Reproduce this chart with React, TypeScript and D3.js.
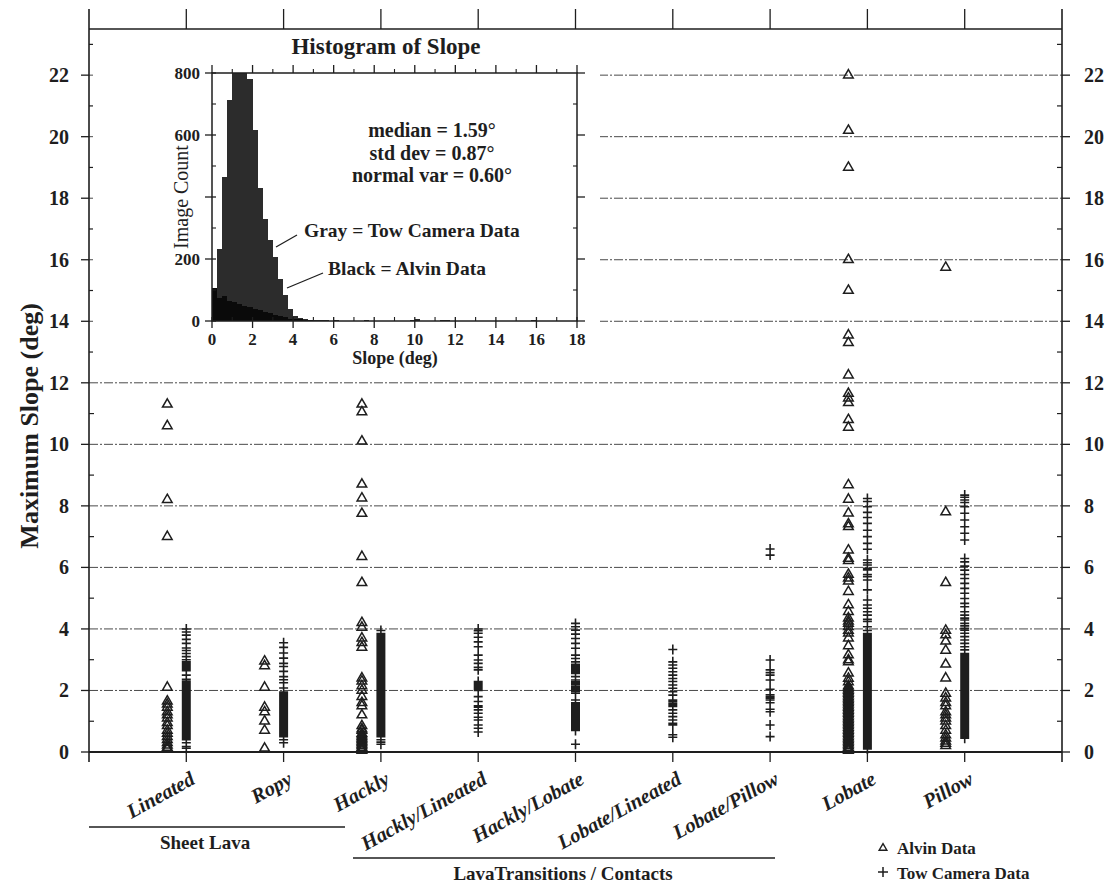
import React from 'react';
import * as d3 from 'd3';

// ---------- DATA ----------
const categories = ['Lineated', 'Ropy', 'Hackly', 'Hackly/Lineated', 'Hackly/Lobate', 'Lobate/Lineated', 'Lobate/Pillow', 'Lobate', 'Pillow'];

const lineatedAlvin = [11.3, 10.6, 8.2, 7.0, 2.1, 1.65, 1.55, 1.45, 1.3, 1.2, 1.1, 0.95, 0.85, 0.7, 0.6, 0.5, 0.4, 0.3, 0.22, 0.15, 0.1];
const lineatedTow = [4.0, 3.9, 3.8, 3.66, 3.53, 3.38, 3.3, 3.2, 3.1, 3.0, 2.93, 2.88, 2.84, 2.8, 2.76, 2.72, 2.68, 2.64, 2.5, 2.36, 2.3, 2.26, 2.22, 2.18, 2.14, 2.1, 2.05, 2.0, 1.95, 1.9, 1.85, 1.8, 1.75, 1.7, 1.65, 1.6, 1.55, 1.5, 1.45, 1.4, 1.35, 1.3, 1.25, 1.2, 1.15, 1.1, 1.05, 1.0, 0.95, 0.9, 0.85, 0.8, 0.75, 0.7, 0.65, 0.6, 0.55, 0.5, 0.45, 0.4, 0.3, 0.18, 0.12];

const ropyAlvin = [2.95, 2.8, 2.1, 1.45, 1.3, 1.0, 0.7, 0.12];
const ropyTow = [3.55, 3.4, 3.22, 3.05, 2.88, 2.78, 2.62, 2.45, 2.35, 2.25, 2.08, 1.95, 1.9, 1.85, 1.8, 1.75, 1.7, 1.65, 1.6, 1.55, 1.5, 1.45, 1.4, 1.35, 1.3, 1.25, 1.2, 1.15, 1.1, 1.05, 1.0, 0.95, 0.9, 0.85, 0.8, 0.75, 0.7, 0.65, 0.6, 0.55, 0.5, 0.4, 0.3];

const hacklyAlvin = [11.3, 11.05, 10.1, 8.7, 8.25, 7.75, 6.35, 5.5, 4.2, 4.05, 3.7, 3.55, 3.4, 2.4, 2.3, 2.15, 2.0, 1.8, 1.6, 1.5, 1.2, 0.85, 0.75, 0.7, 0.6, 0.55, 0.5, 0.45, 0.4, 0.35, 0.3, 0.25, 0.2, 0.15, 0.1, 0.05];
const hacklyTow = [3.95, 3.85, 3.8, 3.75, 3.7, 3.65, 3.6, 3.55, 3.5, 3.45, 3.4, 3.35, 3.3, 3.25, 3.2, 3.15, 3.1, 3.05, 3.0, 2.95, 2.9, 2.85, 2.8, 2.75, 2.7, 2.65, 2.6, 2.55, 2.5, 2.45, 2.4, 2.35, 2.3, 2.25, 2.2, 2.15, 2.1, 2.05, 2.0, 1.95, 1.9, 1.85, 1.8, 1.75, 1.7, 1.65, 1.6, 1.55, 1.5, 1.45, 1.4, 1.35, 1.3, 1.25, 1.2, 1.15, 1.1, 1.05, 1.0, 0.95, 0.9, 0.85, 0.8, 0.75, 0.7, 0.65, 0.6, 0.55, 0.5, 0.4, 0.32, 0.25];

const hacklyLineatedTow = [4.0, 3.94, 3.86, 3.73, 3.58, 3.42, 3.15, 2.99, 2.88, 2.75, 2.67, 2.29, 2.24, 2.2, 2.15, 2.1, 2.05, 2.0, 1.8, 1.64, 1.5, 1.46, 1.37, 1.26, 1.13, 1.04, 0.88, 0.77, 0.65];

const hacklyLobateTow = [4.18, 4.07, 3.96, 3.83, 3.69, 3.53, 3.37, 3.15, 3.04, 2.93, 2.85, 2.8, 2.75, 2.7, 2.65, 2.6, 2.55, 2.45, 2.34, 2.28, 2.23, 2.18, 2.12, 2.07, 2.02, 1.97, 1.91, 1.69, 1.6, 1.55, 1.5, 1.45, 1.4, 1.35, 1.3, 1.25, 1.2, 1.15, 1.1, 1.05, 1.0, 0.95, 0.9, 0.85, 0.8, 0.75, 0.7, 0.25];

const lobateLineatedTow = [3.33, 2.93, 2.83, 2.72, 2.61, 2.5, 2.39, 2.29, 2.18, 2.07, 1.96, 1.85, 1.69, 1.64, 1.58, 1.53, 1.48, 1.37, 1.26, 1.15, 1.04, 0.93, 0.88, 0.56, 0.48];

const lobatePillowTow = [6.6, 6.4, 2.99, 2.67, 2.58, 2.5, 2.34, 2.04, 1.86, 1.8, 1.75, 1.69, 1.6, 1.39, 1.31, 0.88, 0.5];

const lobateAlvin = [22.0, 20.2, 19.0, 16.0, 15.0, 13.55, 13.3, 12.25, 11.65, 11.5, 11.35, 10.8, 10.55, 8.68, 8.21, 7.76, 7.41, 7.32, 6.56, 6.29, 6.22, 5.77, 5.65, 5.55, 5.21, 4.78, 4.56, 4.35, 4.25, 4.18, 4.07, 3.95, 3.86, 3.7, 3.45, 3.15, 2.99, 2.93, 2.56, 2.39, 2.28, 2.15, 2.1, 2.05, 2.0, 1.95, 1.9, 1.85, 1.8, 1.75, 1.7, 1.65, 1.6, 1.55, 1.5, 1.45, 1.4, 1.35, 1.3, 1.25, 1.2, 1.15, 1.1, 1.05, 1.0, 0.95, 0.9, 0.85, 0.8, 0.75, 0.7, 0.65, 0.6, 0.55, 0.5, 0.45, 0.4, 0.35, 0.3, 0.25, 0.2, 0.15, 0.1, 0.05];
const lobateTow = [8.24, 8.14, 7.97, 7.79, 7.62, 7.43, 7.21, 7.0, 6.78, 6.59, 6.24, 6.15, 6.08, 5.97, 5.92, 5.77, 5.7, 5.59, 5.27, 4.94, 4.78, 4.67, 4.56, 4.45, 4.31, 4.24, 4.07, 3.95, 3.85, 3.8, 3.75, 3.7, 3.65, 3.6, 3.55, 3.5, 3.45, 3.4, 3.35, 3.3, 3.25, 3.2, 3.15, 3.1, 3.05, 3.0, 2.95, 2.9, 2.85, 2.8, 2.75, 2.7, 2.65, 2.6, 2.55, 2.5, 2.45, 2.4, 2.35, 2.3, 2.25, 2.2, 2.15, 2.1, 2.05, 2.0, 1.95, 1.9, 1.85, 1.8, 1.75, 1.7, 1.65, 1.6, 1.55, 1.5, 1.45, 1.4, 1.35, 1.3, 1.25, 1.2, 1.15, 1.1, 1.05, 1.0, 0.95, 0.9, 0.85, 0.8, 0.75, 0.7, 0.65, 0.6, 0.55, 0.5, 0.45, 0.4, 0.35, 0.3, 0.25, 0.2, 0.15, 0.1];

const pillowAlvin = [15.75, 7.8, 5.5, 3.95, 3.8, 3.6, 3.3, 2.85, 2.4, 1.9, 1.75, 1.6, 1.5, 1.3, 1.2, 1.1, 1.0, 0.85, 0.7, 0.55, 0.45, 0.35, 0.28, 0.2];
const pillowTow = [8.35, 8.28, 8.19, 8.11, 7.97, 7.76, 7.54, 7.32, 7.11, 6.89, 6.29, 6.18, 6.04, 5.91, 5.77, 5.64, 5.48, 5.32, 5.16, 4.99, 4.83, 4.72, 4.56, 4.45, 4.35, 4.29, 4.18, 4.1, 4.02, 3.96, 3.86, 3.75, 3.64, 3.53, 3.42, 3.32, 3.2, 3.15, 3.1, 3.05, 3.0, 2.95, 2.9, 2.85, 2.8, 2.75, 2.7, 2.65, 2.6, 2.55, 2.5, 2.45, 2.4, 2.35, 2.3, 2.25, 2.2, 2.15, 2.1, 2.05, 2.0, 1.95, 1.9, 1.85, 1.8, 1.75, 1.7, 1.65, 1.6, 1.55, 1.5, 1.45, 1.4, 1.35, 1.3, 1.25, 1.2, 1.15, 1.1, 1.05, 1.0, 0.95, 0.9, 0.85, 0.8, 0.75, 0.7, 0.65, 0.6, 0.55, 0.5, 0.45];

const alvinSeries = [lineatedAlvin, ropyAlvin, hacklyAlvin, [], [], [], [], lobateAlvin, pillowAlvin];
const towSeries = [lineatedTow, ropyTow, hacklyTow, hacklyLineatedTow, hacklyLobateTow, lobateLineatedTow, lobatePillowTow, lobateTow, pillowTow];

const yMajorTicks = [0, 2, 4, 6, 8, 10, 12, 14, 16, 18, 20, 22];
const yMinorTicks = [1, 3, 5, 7, 9, 11, 13, 15, 17, 19, 21, 23];
const gridValues = [2, 4, 6, 8, 10, 12, 14, 16, 18, 20, 22];

// histogram inset (0.25 deg bins)
const histBinStarts = [0, 0.25, 0.5, 0.75, 1.0, 1.25, 1.5, 1.75, 2.0, 2.25, 2.5, 2.75, 3.0, 3.25, 3.5, 3.75, 4.0, 4.25, 4.5, 4.75, 5.0, 5.25, 5.5, 5.75, 6.0, 7.5, 9.75, 10.0, 11.25, 11.5, 15.75];
const towCounts = [55, 231, 463, 714, 930, 1010, 960, 780, 615, 430, 330, 262, 205, 135, 85, 40, 15, 10, 5, 4, 3, 2, 2, 1, 3, 2, 3, 5, 3, 4, 3];
const alvinCounts = [105, 75, 82, 66, 60, 55, 50, 45, 40, 35, 30, 25, 20, 15, 12, 8, 6, 5, 3, 2, 1, 1, 0, 0, 0, 0, 0, 0, 0, 0, 0];
const histXTicks = [0, 2, 4, 6, 8, 10, 12, 14, 16, 18];
const histXMinor = [1, 3, 5, 7, 9, 11, 13, 15, 17];
const histYTicks = [0, 200, 400, 600, 800];
const histYLabels = [0, 200, 600, 800];
const histYMinor = [100, 300, 500, 700];
const statsLines = ['median = 1.59°', 'std dev = 0.87°', 'normal var = 0.60°'];

// ---------- CHART ----------
const INK = '#1e1e1e';
const SERIF = '"Liberation Serif", "Times New Roman", serif';

export default function App() {
  const x = d3.scaleLinear().domain([0, categories.length + 1]).range([89, 1062]);
  const y = d3.scaleLinear().domain([0, 23.5]).range([752, 29]);
  const hx = d3.scaleLinear().domain([0, 18]).range([212, 577]);
  const hy = d3.scaleLinear().domain([0, 800]).range([321, 73]);
  const ALVIN_DX = -19;
  const tri = d3.symbol().type(d3.symbolTriangle).size(40)() as string;
  const triSmall = d3.symbol().type(d3.symbolTriangle).size(26)() as string;
  const xLeft = x(0), xRight = x(categories.length + 1);
  const yTop = y(23.5), yBot = y(0);
  const binW = 0.25;

  const crossPath = (vals: number[], cx: number) =>
    vals.map(v => `M${cx - 4.5},${y(v)}h9M${cx},${y(v) - 5}v10`).join('');

  return (
    <svg width={1107} height={885} style={{ position: 'absolute', left: 0, top: 0, background: '#fff' }}
      fontFamily={SERIF} fill={INK}>
      <rect x={0} y={0} width={1107} height={885} fill="#fff" />
      {/* grid */}
      {gridValues.map(g => (
        <line key={'g' + g} x1={xLeft} x2={xRight} y1={y(g)} y2={y(g)} stroke="#4a4a4a" strokeWidth={1}
          strokeDasharray="9 2 2 2" />
      ))}
      {/* frame */}
      <line x1={xLeft} x2={xRight} y1={yTop} y2={yTop} stroke={INK} strokeWidth={1.6} />
      <line x1={xLeft} x2={xRight} y1={yBot} y2={yBot} stroke={INK} strokeWidth={1.8} />
      <line x1={xLeft} x2={xLeft} y1={9} y2={yBot + 10} stroke={INK} strokeWidth={1.6} />
      <line x1={xRight} x2={xRight} y1={9} y2={yBot + 10} stroke={INK} strokeWidth={1.6} />
      {categories.map((c, i) => (
        <g key={'t' + c}>
          <line x1={x(i + 1)} x2={x(i + 1)} y1={yTop} y2={9} stroke={INK} strokeWidth={1.3} />
          <line x1={x(i + 1)} x2={x(i + 1)} y1={yBot} y2={yBot + 10} stroke={INK} strokeWidth={1.3} />
        </g>
      ))}
      {yMajorTicks.map(t => (
        <g key={'ym' + t}>
          <line x1={xLeft - 8} x2={xLeft} y1={y(t)} y2={y(t)} stroke={INK} strokeWidth={1.3} />
          <line x1={xRight} x2={xRight + 8} y1={y(t)} y2={y(t)} stroke={INK} strokeWidth={1.3} />
          <text x={xLeft - 20} y={y(t)} dy="0.35em" textAnchor="end" fontSize={20} fontWeight="bold">{t}</text>
          <text x={xRight + 22} y={y(t)} dy="0.35em" textAnchor="start" fontSize={20} fontWeight="bold">{t}</text>
        </g>
      ))}
      {yMinorTicks.map(t => (
        <g key={'yn' + t}>
          <line x1={xLeft} x2={xLeft + 5} y1={y(t)} y2={y(t)} stroke={INK} strokeWidth={1.2} />
          <line x1={xRight - 5} x2={xRight} y1={y(t)} y2={y(t)} stroke={INK} strokeWidth={1.2} />
        </g>
      ))}
      <text transform={`translate(38,${y(10.6)}) rotate(-90)`} textAnchor="middle" fontSize={26} fontWeight="bold">
        Maximum Slope (deg)
      </text>

      {/* data */}
      {towSeries.map((vals, i) => (
        <path key={'tow' + i} d={crossPath(vals, x(i + 1))} stroke={INK} strokeWidth={1.6} fill="none" />
      ))}
      {alvinSeries.map((vals, i) => (
        <g key={'alv' + i}>
          {vals.map((v, j) => (
            <path key={j} d={tri} transform={`translate(${x(i + 1) + ALVIN_DX},${y(v)})`} fill="none"
              stroke={INK} strokeWidth={1.5} />
          ))}
        </g>
      ))}

      {/* category labels */}
      {categories.map((c, i) => (
        <text key={'c' + c} transform={`translate(${x(i + 1) + 10},${yBot + 31}) rotate(-29)`} textAnchor="end"
          fontSize={20.5} fontWeight="bold" fontStyle="italic">{c}</text>
      ))}
      <line x1={89} x2={345} y1={827} y2={827} stroke={INK} strokeWidth={1.6} />
      <text x={205} y={849} textAnchor="middle" fontSize={19} fontWeight="bold">Sheet Lava</text>
      <line x1={353} x2={775} y1={858} y2={858} stroke={INK} strokeWidth={1.6} />
      <text x={563} y={880} textAnchor="middle" fontSize={19} fontWeight="bold">LavaTransitions / Contacts</text>

      {/* legend */}
      <path d={triSmall} transform="translate(883,848)" fill="none" stroke={INK} strokeWidth={1.4} />
      <text x={897} y={854} fontSize={17} fontWeight="bold">Alvin Data</text>
      <path d="M878,872h10M883,867v10" stroke={INK} strokeWidth={1.5} />
      <text x={897} y={879} fontSize={17} fontWeight="bold">Tow Camera Data</text>

      {/* inset */}
      <rect x={93} y={31} width={507} height={322} fill="#fff" />
      <text x={386} y={54} textAnchor="middle" fontSize={23} fontWeight="bold">Histogram of Slope</text>
      {histBinStarts.map((b, i) => (
        <rect key={'hg' + i} x={hx(b)} width={hx(b + binW) - hx(b)} y={hy(Math.min(towCounts[i], 800))}
          height={hy(0) - hy(Math.min(towCounts[i], 800))} fill="#2c2c2c" shapeRendering="crispEdges" />
      ))}
      {histBinStarts.map((b, i) => alvinCounts[i] > 0 ? (
        <rect key={'hb' + i} x={hx(b)} width={hx(b + binW) - hx(b)} y={hy(alvinCounts[i])}
          height={hy(0) - hy(alvinCounts[i])} fill="#0a0a0a" shapeRendering="crispEdges" />
      ) : null)}
      <rect x={hx(0)} y={hy(800)} width={hx(18) - hx(0)} height={hy(0) - hy(800)} fill="none" stroke={INK}
        strokeWidth={1.5} />
      {histXTicks.map(t => (
        <g key={'hx' + t}>
          <line x1={hx(t)} x2={hx(t)} y1={hy(0) - 4} y2={hy(0) + 7} stroke={INK} strokeWidth={1.3} />
          <line x1={hx(t)} x2={hx(t)} y1={hy(800)} y2={hy(800) - 8} stroke={INK} strokeWidth={1.3} />
          <text x={hx(t)} y={hy(0) + 24} textAnchor="middle" fontSize={17} fontWeight="bold">{t}</text>
        </g>
      ))}
      {histXMinor.map(t => (
        <g key={'hxm' + t}>
          <line x1={hx(t)} x2={hx(t)} y1={hy(0)} y2={hy(0) - 4} stroke={INK} strokeWidth={1.1} />
          <line x1={hx(t)} x2={hx(t)} y1={hy(800)} y2={hy(800) - 4} stroke={INK} strokeWidth={1.1} />
        </g>
      ))}
      {histYTicks.map(t => (
        <g key={'hy' + t}>
          <line x1={hx(0) - 7} x2={hx(0) + 4} y1={hy(t)} y2={hy(t)} stroke={INK} strokeWidth={1.3} />
          <line x1={hx(18)} x2={hx(18) + 8} y1={hy(t)} y2={hy(t)} stroke={INK} strokeWidth={1.3} />
        </g>
      ))}
      {histYLabels.map(t => (
        <text key={'hyl' + t} x={hx(0) - 12} y={hy(t)} dy="0.35em" textAnchor="end" fontSize={17} fontWeight="bold">{t}</text>
      ))}
      {histYMinor.map(t => (
        <g key={'hym' + t}>
          <line x1={hx(0)} x2={hx(0) + 4} y1={hy(t)} y2={hy(t)} stroke={INK} strokeWidth={1.1} />
          <line x1={hx(18) - 4} x2={hx(18)} y1={hy(t)} y2={hy(t)} stroke={INK} strokeWidth={1.1} />
        </g>
      ))}
      <text x={395} y={364} textAnchor="middle" fontSize={18} fontWeight="bold">Slope (deg)</text>
      <text transform={`translate(188,${hy(400)}) rotate(-90)`} textAnchor="middle" fontSize={20}>Image Count</text>
      {statsLines.map((s, i) => (
        <text key={'s' + i} x={432} y={137 + i * 22.5} textAnchor="middle" fontSize={20} fontWeight="bold">{s}</text>
      ))}
      <text x={304} y={237} fontSize={19.5} fontWeight="bold">Gray = Tow Camera Data</text>
      <line x1={297} x2={276} y1={235} y2={247} stroke={INK} strokeWidth={1.3} />
      <text x={328} y={275} fontSize={19.5} fontWeight="bold">Black = Alvin Data</text>
      <line x1={323} x2={287} y1={273} y2={288} stroke={INK} strokeWidth={1.3} />
    </svg>
  );
}
